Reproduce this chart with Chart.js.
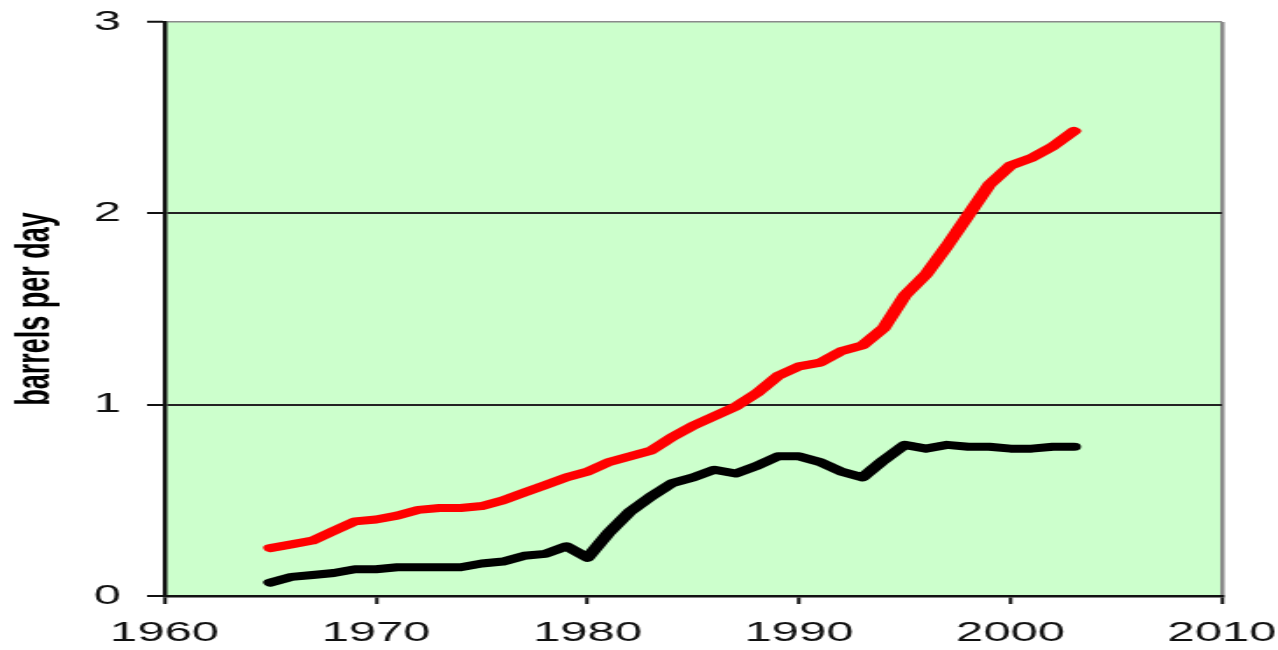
<!DOCTYPE html>
<html><head><meta charset="utf-8">
<script src="https://cdn.jsdelivr.net/npm/chart.js@4/dist/chart.umd.min.js"></script>
<style>
html,body{margin:0;padding:0;background:#fff;overflow:hidden}
#c{display:block;width:1278px !important;height:650px !important;}
</style></head><body>
<canvas id="c" width="730" height="650"></canvas>
<script>
const years = [1965,1966,1967,1968,1969,1970,1971,1972,1973,1974,1975,1976,1977,1978,1979,1980,1981,1982,1983,1984,1985,1986,1987,1988,1989,1990,1991,1992,1993,1994,1995,1996,1997,1998,1999,2000,2001,2002,2003];
const consumption = [0.25,0.27,0.29,0.34,0.39,0.40,0.42,0.45,0.46,0.46,0.47,0.50,0.54,0.58,0.62,0.65,0.70,0.73,0.76,0.83,0.89,0.94,0.99,1.06,1.15,1.20,1.22,1.28,1.31,1.40,1.57,1.68,1.83,1.99,2.15,2.25,2.29,2.35,2.43];
const production = [0.07,0.10,0.11,0.12,0.14,0.14,0.15,0.15,0.15,0.15,0.17,0.18,0.21,0.22,0.26,0.20,0.33,0.44,0.52,0.59,0.62,0.66,0.64,0.68,0.73,0.73,0.70,0.65,0.62,0.71,0.79,0.77,0.79,0.78,0.78,0.77,0.77,0.78,0.78];
const xTickValues = [1960,1970,1980,1990,2000,2010];
const xTickLabels = ['1960','1970','1980','1990','2000','2010'];
const yTickLabels = ['0','1','2','3'];
const yTitle = 'barrels per day';

const toPoints = arr => years.map((yr, i) => ({x: yr, y: arr[i]}));

const bgPlugin = {
  id: 'plotBg',
  beforeDraw(chart) {
    const a = chart.chartArea, ctx = chart.ctx;
    ctx.save();
    ctx.fillStyle = '#CCFFCC';
    ctx.fillRect(a.left, a.top, a.right - a.left, a.bottom - a.top);
    ctx.restore();
  }
};

const FONT = "'Liberation Sans', Arial, sans-serif";

new Chart(document.getElementById('c'), {
  type: 'line',
  data: {
    datasets: [
      { label: 'consumption', data: toPoints(consumption), borderColor: '#FF0000', borderWidth: 8, pointRadius: 0, tension: 0, fill: false, borderJoinStyle: 'round', borderCapStyle: 'round' },
      { label: 'production', data: toPoints(production), borderColor: '#000000', borderWidth: 8, pointRadius: 0, tension: 0, fill: false, borderJoinStyle: 'round', borderCapStyle: 'round' }
    ]
  },
  options: {
    responsive: false,
    animation: false,
    devicePixelRatio: 1,
    layout: { padding: { left: 0, top: 22, right: 32, bottom: 0 } },
    plugins: { legend: { display: false }, tooltip: { enabled: false } },
    scales: {
      x: {
        type: 'linear', min: 1960, max: 2010,
        afterBuildTicks(scale) { scale.ticks = xTickValues.map(v => ({ value: v })); },
        afterFit(scale) { scale.height = 54; scale.paddingLeft = 0; scale.paddingRight = 0; },
        ticks: {
          callback: (v) => xTickLabels[xTickValues.indexOf(v)],
          font: { family: FONT, size: 28 }, color: '#111', padding: 12, maxRotation: 0, autoSkip: false
        },
        grid: {
          drawOnChartArea: true,
          color: (c) => (c.tick && c.tick.value === 2010) ? '#8a8a8a' : 'rgba(0,0,0,0)',
          lineWidth: 2.5,
          tickColor: '#111', tickLength: 8, tickWidth: 2
        },
        border: { display: true, color: '#111', width: 2.5 }
      },
      y: {
        type: 'linear', min: 0, max: 3,
        afterBuildTicks(scale) { scale.ticks = yTickLabels.map((_, i) => ({ value: i })); },
        afterFit(scale) { scale.width = 94; scale.paddingTop = 0; scale.paddingBottom = 0; },
        ticks: {
          callback: (v) => yTickLabels[v],
          font: { family: FONT, size: 28 }, color: '#111', padding: 15
        },
        grid: {
          color: (c) => (c.tick && c.tick.value === 3) ? '#8a8a8a' : '#222',
          lineWidth: (c) => (c.tick && c.tick.value === 3) ? 1.5 : 2,
          tickColor: '#111', tickLength: 10, tickWidth: 2
        },
        border: { display: true, color: '#111', width: 2.5 },
        title: { display: true, text: yTitle, font: { family: FONT, size: 27, weight: 'bold' }, color: '#000', padding: { top: 4, bottom: 0 } }
      }
    }
  },
  plugins: [bgPlugin]
});
</script>
</body></html>
